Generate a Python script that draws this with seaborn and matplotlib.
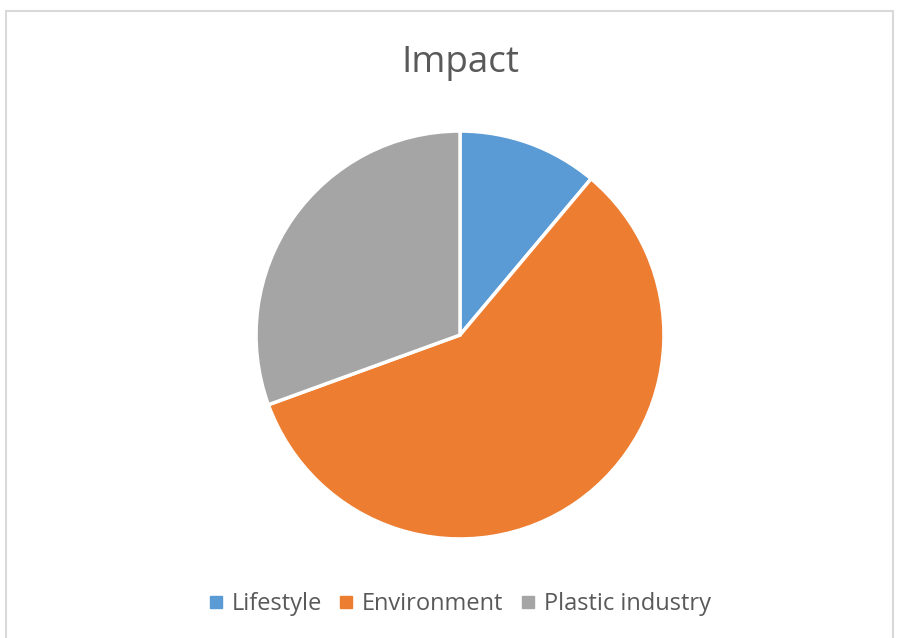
import matplotlib
matplotlib.use("Agg")
import matplotlib.pyplot as plt
from matplotlib.lines import Line2D
import seaborn as sns

# Slice data (share of the circle)
labels = ["Lifestyle", "Environment", "Plastic industry"]
values = [4, 21, 11]
colors = sns.color_palette(["#5B9BD5", "#ED7D31", "#A5A5A5"])

sns.set_style("white")
plt.rcParams['font.family'] = ['Open Sans', 'DejaVu Sans']

W, H = 897, 638
fig = plt.figure(figsize=(W / 100, H / 100), dpi=100)

# pie axes: centre (460, 335) px, radius 206 px
cx, cy, r = 460, 335, 206
ax = fig.add_axes([(cx - r) / W, (H - cy - r) / H, 2 * r / W, 2 * r / H])
wedges, _ = ax.pie(values, colors=colors, startangle=90, counterclock=False,
                   wedgeprops=dict(edgecolor="white", linewidth=2.5))
ax.set_xlim(-1.01, 1.01)
ax.set_ylim(-1.01, 1.01)
ax.set_aspect("equal")
ax.axis("off")

# chart border (bottom edge is cut off in the original)
bc = "#D9D9D9"
x0, x1, yt = 6 / W, 893 / W, 1 - 11 / H
fig.add_artist(Line2D([x0, x0], [0, yt], color=bc, lw=1.5, transform=fig.transFigure))
fig.add_artist(Line2D([x0, x1], [yt, yt], color=bc, lw=1.5, transform=fig.transFigure))
fig.add_artist(Line2D([x1, x1], [0, yt], color=bc, lw=1.5, transform=fig.transFigure))

fig.text(cx / W, 1 - 63 / H, "Impact", ha="center", va="center",
         fontsize=26.5, color="#595959")

handles = [Line2D([], [], marker="s", linestyle="none", markersize=9,
                  markerfacecolor=c, markeredgecolor=c) for c in colors]
fig.legend(handles, labels, loc="center", bbox_to_anchor=(cx / W, 1 - 604 / H),
           ncol=3, frameon=False, fontsize=17, labelcolor="#595959",
           handlelength=0.55, handletextpad=0.4, columnspacing=0.75)

fig.savefig("out.png", dpi=100)
